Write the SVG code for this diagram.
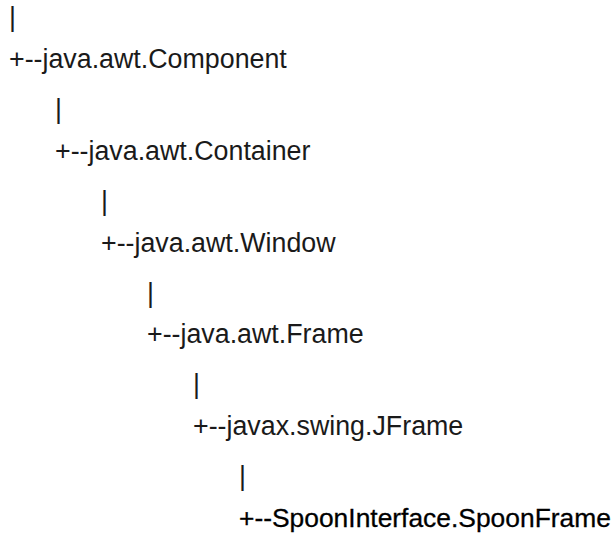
<svg xmlns="http://www.w3.org/2000/svg" width="615" height="537" viewBox="0 0 615 537">
<style>
  text { font-family: "Liberation Sans", Arial, sans-serif; font-size: 26.8px; fill: #1a1a1a; }
  .dark { fill: #000; stroke: #000; stroke-width: 0.3px; font-size: 26.4px; }
</style>
<rect width="615" height="537" fill="#fff"/>
<g id="connectors">
  <text x="9" y="26">|</text>
  <text x="55" y="118">|</text>
  <text x="101" y="210">|</text>
  <text x="147" y="302">|</text>
  <text x="193" y="393">|</text>
  <text x="239" y="485">|</text>
</g>
<g id="component"><text x="9" y="68">+--java.awt.Component</text></g>
<g id="container"><text x="55" y="160">+--java.awt.Container</text></g>
<g id="window"><text x="101" y="252">+--java.awt.Window</text></g>
<g id="frame"><text x="147" y="343">+--java.awt.Frame</text></g>
<g id="jframe"><text x="193" y="435">+--javax.swing.JFrame</text></g>
<g id="spoonframe"><text x="239" y="527" class="dark">+--SpoonInterface.SpoonFrame</text></g>
</svg>
